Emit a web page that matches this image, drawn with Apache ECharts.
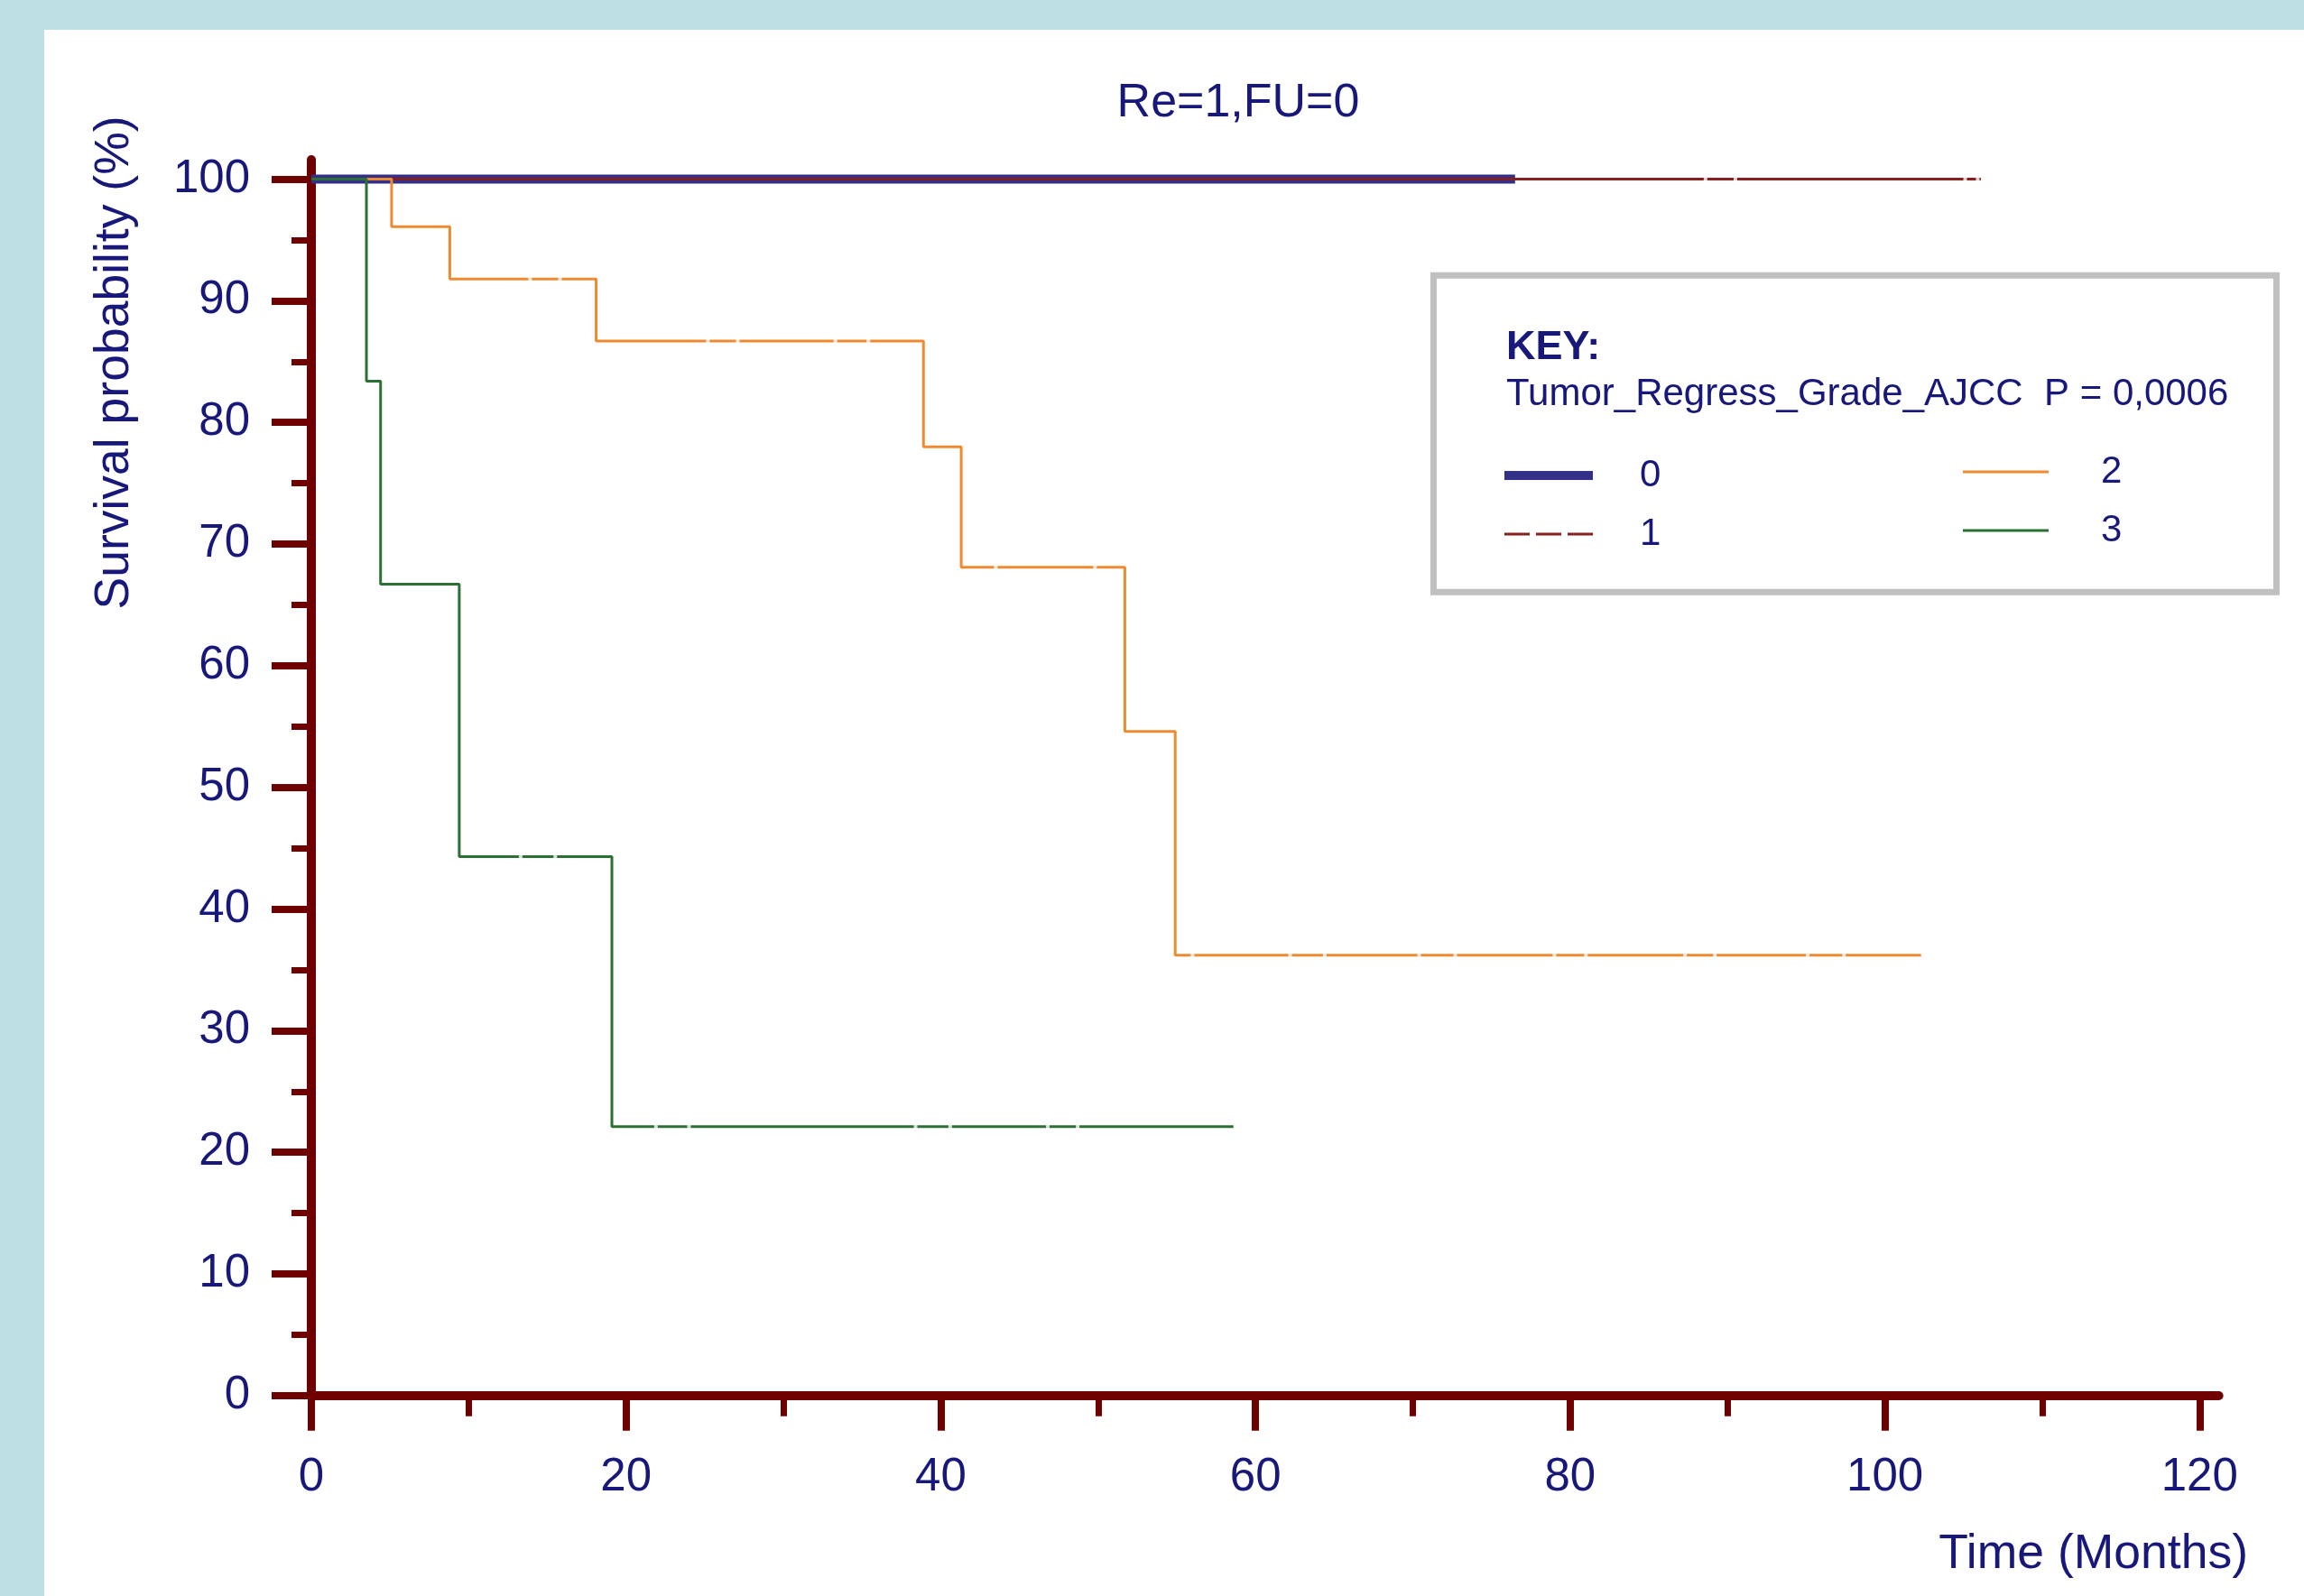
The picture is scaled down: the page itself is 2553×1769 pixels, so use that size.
<!DOCTYPE html>
<html><head><meta charset="utf-8">
<script src="https://cdn.jsdelivr.net/npm/echarts@6/dist/echarts.min.js"></script>
<style>html,body{margin:0;padding:0;background:#fff;}#c{width:2553px;height:1769px;}</style>
</head><body><div id="c"></div>
<script>
// ---- texts ----
const titleText = 'Re=1,FU=0';
const yName = 'Survival probability (%)';
const xName = 'Time (Months)';
const keyTitle = 'KEY:';
const keySub = 'Tumor_Regress_Grade_AJCC  P = 0,0006';
const groupNames = ['0', '1', '2', '3'];

// ---- tick labels ----
const xTicks = [0, 20, 40, 60, 80, 100, 120];
const yTicks = [0, 10, 20, 30, 40, 50, 60, 70, 80, 90, 100];

// ---- survival steps (time in months, survival %) ----
const time0 = [0, 76.5];
const surv0 = [100, 100];
const time1 = [0, 106.1];
const surv1 = [100, 100];
const time2 = [0, 5.1, 8.8, 18.1, 38.9, 41.3, 51.7, 54.9, 102.3];
const surv2 = [100, 96.1, 91.8, 86.7, 78.0, 68.1, 54.6, 36.2, 36.2];
const time3 = [0, 3.5, 4.4, 9.4, 19.1, 58.6];
const surv3 = [100, 83.4, 66.7, 44.3, 22.1, 22.1];

// ---- censor marks ----
const cens1T = [88.6, 90.5, 105.1, 105.9];
const cens1S = [100, 100, 100, 100];
const cens2T = [13.9, 15.8, 25.2, 27.1, 33.3, 35.4, 43.5, 49.8, 56.0, 62.2, 64.4, 70.4, 72.7, 79.0, 81.0, 87.3, 89.2, 95.1, 97.4];
const cens2S = [91.8, 91.8, 86.7, 86.7, 86.7, 86.7, 68.1, 68.1, 36.2, 36.2, 36.2, 36.2, 36.2, 36.2, 36.2, 36.2, 36.2, 36.2, 36.2];
const cens3T = [13.3, 15.5, 21.9, 24.0, 38.4, 40.6, 46.8, 48.7];
const cens3S = [44.3, 44.3, 22.1, 22.1, 22.1, 22.1, 22.1, 22.1];

const zip = (a, b) => a.map((v, i) => [v, b[i]]);

const NAVY = '#18187a';
const AXIS = '#6f0000';
const FONT = '"Liberation Sans", Arial, sans-serif';
const colors = ['#33308a', '#862020', '#ef8a30', '#2c7034'];
const widths = [10, 3, 3, 3];
const times = [time0, time1, time2, time3];
const survs = [surv0, surv1, surv2, surv3];

const xStep = xTicks[1] - xTicks[0];
const yStep = yTicks[1] - yTicks[0];

const lineSeries = groupNames.map((n, i) => ({
  name: n, type: 'line', step: 'end', symbol: 'none', clip: false,
  xAxisIndex: 0, yAxisIndex: 0,
  data: zip(times[i], survs[i]),
  lineStyle: { color: colors[i], width: widths[i] },
  itemStyle: { color: colors[i] },
  z: 2 + i * 0.01
}));
const censorSeries = [[cens1T, cens1S], [cens2T, cens2S], [cens3T, cens3S]].map((c, i) => ({
  name: 'censor' + (i + 1), type: 'scatter', symbol: 'rect', symbolSize: [4, 12],
  xAxisIndex: 0, yAxisIndex: 0, clip: false,
  data: zip(c[0], c[1]),
  itemStyle: { color: '#ffffff' }, z: 5, silent: true
}));

const legendText = (pad) => ({ color: NAVY, fontFamily: FONT, fontSize: 42, padding: [0, 0, 0, pad] });
const dashIcon = 'path://M0,0h28v3h-28zM35,0h28v3h-28zM70,0h28v3h-28z';

const chart = echarts.init(document.getElementById('c'), null, { renderer: 'canvas' });
chart.setOption({
  animation: false,
  backgroundColor: '#ffffff',
  title: {
    text: titleText, left: 1372, top: 89, textAlign: 'center', padding: 0,
    textStyle: { color: NAVY, fontFamily: FONT, fontSize: 52, fontWeight: 'normal' }
  },
  grid: [
    { left: 345, right: 115.7, top: 198.6, bottom: 222.2 },
    { left: 345, right: 94.4, top: 177, bottom: 222.2 }
  ],
  xAxis: [
    {
      type: 'value', gridIndex: 0, min: xTicks[0], max: xTicks[xTicks.length - 1], interval: xStep,
      axisLine: { show: false },
      axisTick: { show: true, inside: false, length: 39, lineStyle: { color: AXIS, width: 8 } },
      minorTick: { show: true, splitNumber: 2, length: 23, lineStyle: { color: AXIS, width: 7 } },
      axisLabel: { show: true, margin: 66, color: NAVY, fontFamily: FONT, fontSize: 51 },
      splitLine: { show: false }, minorSplitLine: { show: false }
    },
    {
      type: 'value', gridIndex: 1, min: 0, max: 121.2,
      axisLine: { show: true, onZero: false, lineStyle: { color: AXIS, width: 10 } },
      axisTick: { show: false }, axisLabel: { show: false }, splitLine: { show: false }
    }
  ],
  yAxis: [
    {
      type: 'value', gridIndex: 0, min: yTicks[0], max: yTicks[yTicks.length - 1], interval: yStep,
      axisLine: { show: false },
      axisTick: { show: true, inside: false, length: 44, lineStyle: { color: AXIS, width: 8 } },
      minorTick: { show: true, splitNumber: 2, length: 22, lineStyle: { color: AXIS, width: 7 } },
      axisLabel: { show: true, margin: 68, color: NAVY, fontFamily: FONT, fontSize: 51 },
      splitLine: { show: false }, minorSplitLine: { show: false }
    },
    {
      type: 'value', gridIndex: 1, min: 0, max: 101.6,
      axisLine: { show: true, onZero: false, lineStyle: { color: AXIS, width: 10 } },
      axisTick: { show: false }, axisLabel: { show: false }, splitLine: { show: false }
    }
  ],
  legend: [
    {
      data: [{ name: groupNames[0], icon: 'rect' }],
      orient: 'vertical', left: 1667, top: 506, padding: 0,
      itemWidth: 98, itemHeight: 10, selectedMode: false, textStyle: legendText(47)
    },
    {
      data: [{ name: groupNames[1], icon: dashIcon }],
      orient: 'vertical', left: 1667, top: 571, padding: 0,
      itemWidth: 98, itemHeight: 3, selectedMode: false, textStyle: legendText(47)
    },
    {
      data: [{ name: groupNames[2], icon: 'rect' }, { name: groupNames[3], icon: 'rect' }],
      orient: 'vertical', left: 2175, top: 502, padding: 0,
      itemWidth: 95, itemHeight: 3, itemGap: 23, selectedMode: false, textStyle: legendText(53)
    }
  ],
  graphic: [
    { type: 'rect', shape: { x: 0, y: 0, width: 2553, height: 33 }, style: { fill: '#bcdfe1' }, silent: true },
    { type: 'rect', shape: { x: 0, y: 0, width: 49, height: 1769 }, style: { fill: '#bcdfe1' }, silent: true },
    { type: 'rect', shape: { x: 1588.5, y: 305.2, width: 934, height: 351 },
      style: { fill: '#ffffff', stroke: '#c0c0c0', lineWidth: 7 }, z: -1, silent: true },
    { type: 'text', x: 1669, y: 386, style: { text: keyTitle, fill: NAVY, font: 'bold 45px ' + FONT, textAlign: 'left', textVerticalAlign: 'middle' }, silent: true },
    { type: 'text', x: 1669, y: 437, style: { text: keySub, fill: NAVY, font: '42px ' + FONT, textAlign: 'left', textVerticalAlign: 'middle' }, silent: true },
    { type: 'text', x: 127.5, y: 402, rotation: Math.PI / 2, style: { text: yName, fill: NAVY, font: '53.5px ' + FONT, textAlign: 'center', textVerticalAlign: 'middle' }, silent: true },
    { type: 'text', x: 2491, y: 1723, style: { text: xName, fill: NAVY, font: '53.5px ' + FONT, textAlign: 'right', textVerticalAlign: 'middle' }, silent: true }
  ],
  series: lineSeries.concat(censorSeries)
});
</script></body></html>
